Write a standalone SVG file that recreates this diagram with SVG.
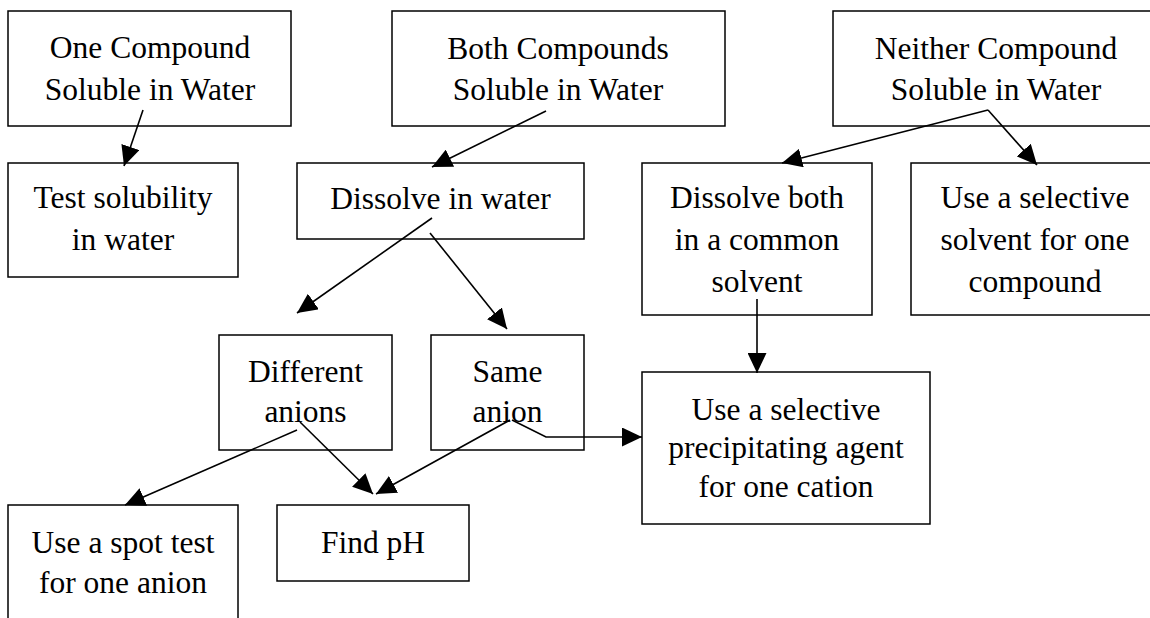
<svg xmlns="http://www.w3.org/2000/svg" width="1150" height="618" viewBox="0 0 1150 618">
<style>
  .box { fill: #ffffff; stroke: #000000; stroke-width: 1.5; }
  .t { font-family: "Liberation Serif", "Times New Roman", serif; font-size: 31.5px; fill: #000000; text-anchor: middle; }
  .c { fill: none; stroke: #000000; stroke-width: 1.6; marker-end: url(#ah); }
</style>
<defs>
  <marker id="ah" markerUnits="userSpaceOnUse" markerWidth="20" markerHeight="19" viewBox="0 0 20 19" refX="20" refY="9.5" orient="auto">
    <path d="M0,0 L20,9.5 L0,19 z" fill="#000000"/>
  </marker>
</defs>
<rect x="0" y="0" width="1150" height="618" fill="#ffffff"/>

<g id="n-one">
  <rect class="box" x="8" y="11" width="283" height="115"/>
  <text class="t" x="150" y="58">One Compound</text>
  <text class="t" x="150" y="100">Soluble in Water</text>
</g>
<g id="n-both">
  <rect class="box" x="392" y="11" width="333" height="115"/>
  <text class="t" x="558" y="59">Both Compounds</text>
  <text class="t" x="558" y="100">Soluble in Water</text>
</g>
<g id="n-neither">
  <rect class="box" x="833" y="11" width="330" height="115"/>
  <text class="t" x="996" y="59">Neither Compound</text>
  <text class="t" x="996" y="100">Soluble in Water</text>
</g>
<g id="n-test">
  <rect class="box" x="8" y="163" width="230" height="114"/>
  <text class="t" x="123" y="208">Test solubility</text>
  <text class="t" x="123" y="250">in water</text>
</g>
<g id="n-dissolve">
  <rect class="box" x="297" y="163" width="287" height="76"/>
  <text class="t" x="440.5" y="209">Dissolve in water</text>
</g>
<g id="n-common">
  <rect class="box" x="642" y="163" width="230" height="152"/>
  <text class="t" x="757" y="208">Dissolve both</text>
  <text class="t" x="757" y="250">in a common</text>
  <text class="t" x="757" y="292">solvent</text>
</g>
<g id="n-selsolvent">
  <rect class="box" x="911" y="163" width="252" height="152"/>
  <text class="t" x="1035" y="208">Use a selective</text>
  <text class="t" x="1035" y="250">solvent for one</text>
  <text class="t" x="1035" y="292">compound</text>
</g>
<g id="n-different">
  <rect class="box" x="219" y="335" width="173" height="115"/>
  <text class="t" x="305.5" y="382">Different</text>
  <text class="t" x="305.5" y="422">anions</text>
</g>
<g id="n-same">
  <rect class="box" x="431" y="335" width="153" height="115"/>
  <text class="t" x="507.5" y="382">Same</text>
  <text class="t" x="507.5" y="422">anion</text>
</g>
<g id="n-precip">
  <rect class="box" x="642" y="372" width="288" height="152"/>
  <text class="t" x="786" y="420">Use a selective</text>
  <text class="t" x="786" y="458">precipitating agent</text>
  <text class="t" x="786" y="497">for one cation</text>
</g>
<g id="n-spot">
  <rect class="box" x="8" y="505" width="230" height="125"/>
  <text class="t" x="123" y="553">Use a spot test</text>
  <text class="t" x="123" y="593">for one anion</text>
</g>
<g id="n-ph">
  <rect class="box" x="277" y="505" width="192" height="76"/>
  <text class="t" x="373" y="553">Find pH</text>
</g>

<g id="connectors">
  <path class="c" d="M143,110 L124,166"/>
  <path class="c" d="M546,111 L432,167"/>
  <path class="c" d="M988,110 L782,163"/>
  <path class="c" d="M988,110 L1037,165"/>
  <path class="c" d="M432,218 L297,313"/>
  <path class="c" d="M430,233 L507,329"/>
  <path class="c" d="M757,299 L757,373"/>
  <path class="c" d="M297,430 L125,505"/>
  <path class="c" d="M300,422 L373,494"/>
  <path class="c" d="M510,420 L376,494"/>
  <path class="c" d="M512,420 L546,437 L642,437"/>
</g>
</svg>
